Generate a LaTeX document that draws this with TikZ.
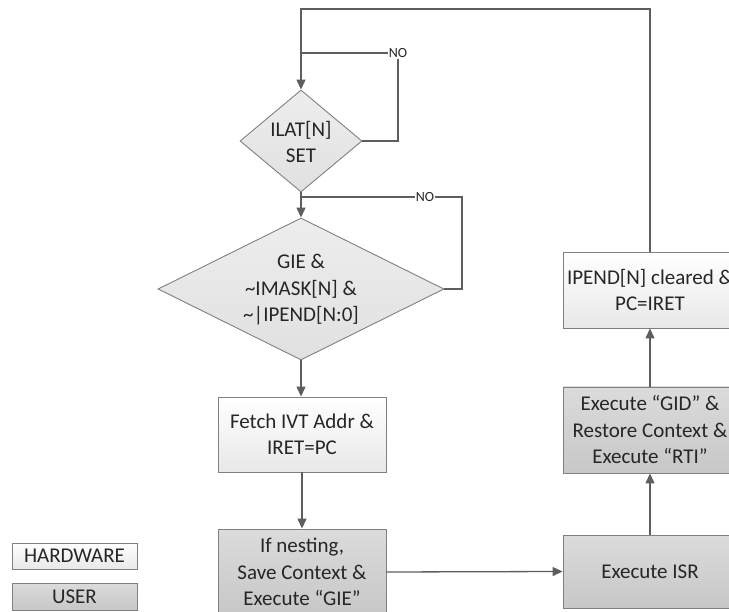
\documentclass[tikz,border=0pt]{standalone}
\usepackage{fontspec}
\setmainfont{Carlito}
\usetikzlibrary{arrows.meta,shapes.geometric}
\definecolor{edge}{HTML}{808080}
\definecolor{wire}{HTML}{5E5E5E}
\definecolor{ink}{HTML}{262626}
\tikzset{
  hwbox/.style={draw=edge, line width=0.9pt, top color=white, bottom color=black!9, align=center,
    font=\fontsize{21}{26.5}\selectfont, text=ink, inner sep=0pt},
  userbox/.style={draw=edge, line width=0.9pt, top color=black!14, bottom color=black!22, align=center,
    font=\fontsize{21}{26.5}\selectfont, text=ink, inner sep=0pt},
  decide/.style={diamond, draw=edge, line width=0.9pt, top color=black!7, bottom color=black!12, inner sep=0pt},
  dtext/.style={align=center, font=\fontsize{21}{26.5}\selectfont, text=ink},
  flow/.style={draw=wire, line width=1.3pt, -{Triangle[length=10pt,width=9pt]}},
  plain/.style={draw=wire, line width=1.3pt},
  nolabel/.style={font=\fontsize{14}{16}\selectfont, text=ink, fill=white, inner sep=1pt}
}
\begin{document}
\begin{tikzpicture}[x=1pt, y=-1pt]
\useasboundingbox (0,0) rectangle (729,612);
\clip (0,0) rectangle (729,612);
% decisions
\node[decide, minimum width=122pt, minimum height=102pt] (d1) at (301,141) {};
\node[dtext] (d1t) at (301,142) {ILAT[N]\\SET};
\node[decide, minimum width=286pt, minimum height=142pt] (d2) at (301,289) {};
\node[dtext] (d2t) at (301,290) {GIE \&\\\textasciitilde IMASK[N] \&\\\textasciitilde|IPEND[N:0]};
% process boxes
\node[hwbox, minimum width=168pt, minimum height=75pt] (fetch) at (302,434.5) {Fetch IVT Addr \&\\IRET=PC};
\node[userbox, minimum width=168pt, minimum height=86pt] (nest) at (302,572) {If nesting,\\Save Context \&\\Execute “GIE”};
\node[userbox, minimum width=174pt, minimum height=73pt] (isr) at (650,571.5) {Execute ISR};
\node[userbox, minimum width=174pt, minimum height=86pt] (gid) at (650,430) {Execute “GID” \&\\Restore Context \&\\Execute “RTI”};
\node[hwbox, minimum width=174pt, minimum height=76pt] (ipend) at (650,290) {IPEND[N] cleared \&\\PC=IRET};
% legend
\node[hwbox, minimum width=125pt, minimum height=26pt] (lhw) at (74.5,556) {HARDWARE};
\node[userbox, minimum width=125pt, minimum height=27pt] (lus) at (74.5,596.5) {USER};
% connectors
\coordinate (top) at (301,9);
\coordinate (topr) at (650,9);
\coordinate (j1) at (301,53);
\coordinate (j2) at (301,197);
\coordinate (c2) at (462,197);
\node[nolabel] (no1) at (398,53) {NO};
\draw[plain] (ipend.north) -- (topr) -- (top) -- (j1);
\draw[flow] (j1) -- (d1.north);
\draw[plain] (d1.east) -| (no1.south);
\draw[plain] (no1.west) -- (j1);
\draw[flow] (d1.south) -- (d2.north);
\draw[plain] (d2.east) -| (c2) -- node[nolabel, pos=0.23] (no2) {NO} (j2);
\draw[flow] (d2.south) -- (d2.south |- fetch.north);
\draw[flow] (fetch.south) -- (nest.north);
\draw[flow] (nest.east) -- (isr.west);
\draw[flow] (isr.north) -- (gid.south);
\draw[flow] (gid.north) -- (ipend.south);
\end{tikzpicture}
\end{document}
